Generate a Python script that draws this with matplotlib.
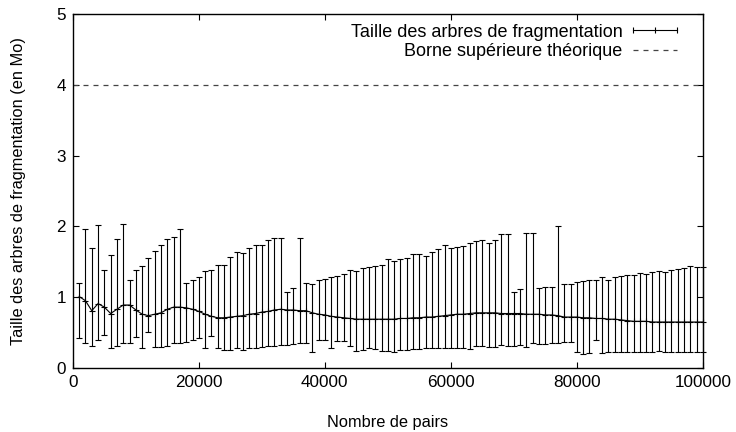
import numpy as np
import matplotlib
matplotlib.use('Agg')
import matplotlib.pyplot as plt
from matplotlib.lines import Line2D

plt.rcParams['font.family'] = ['Liberation Sans', 'DejaVu Sans']
plt.rcParams['font.size'] = 11.8

# Nombre de pairs (un point tous les 1000)
pairs = list(range(1000, 100001, 1000))

# Taille moyenne des arbres (en Mo)
mean_size = [
    1.01, 0.95, 0.81, 0.91, 0.86, 0.77, 0.83, 0.89, 0.89, 0.82,
    0.76, 0.74, 0.76, 0.78, 0.83, 0.86, 0.86, 0.85, 0.83, 0.80,
    0.76, 0.73, 0.71, 0.71, 0.72, 0.73, 0.74, 0.76, 0.77, 0.79,
    0.80, 0.82, 0.83, 0.82, 0.82, 0.81, 0.81, 0.78, 0.76, 0.75,
    0.73, 0.72, 0.71, 0.70, 0.69, 0.69, 0.69, 0.69, 0.69, 0.69,
    0.69, 0.70, 0.70, 0.71, 0.71, 0.72, 0.72, 0.73, 0.74, 0.75,
    0.76, 0.76, 0.77, 0.78, 0.78, 0.78, 0.78, 0.77, 0.77, 0.77,
    0.77, 0.76, 0.76, 0.76, 0.75, 0.75, 0.74, 0.72, 0.72, 0.72,
    0.71, 0.71, 0.70, 0.70, 0.69, 0.69, 0.68, 0.67, 0.66, 0.66,
    0.66, 0.65, 0.65, 0.65, 0.65, 0.65, 0.65, 0.65, 0.65, 0.65,
]

# max
upper = [
    1.20, 1.96, 1.70, 2.02, 1.39, 1.60, 1.82, 2.03, 1.25, 1.38,
    1.44, 1.56, 1.65, 1.74, 1.82, 1.85, 1.96, 1.20, 1.24, 1.29,
    1.37, 1.38, 1.46, 1.46, 1.57, 1.64, 1.63, 1.69, 1.73, 1.74,
    1.81, 1.83, 1.84, 1.08, 1.13, 1.83, 1.20, 1.19, 1.24, 1.26,
    1.29, 1.30, 1.33, 1.38, 1.37, 1.41, 1.43, 1.44, 1.45, 1.54,
    1.51, 1.54, 1.56, 1.61, 1.61, 1.58, 1.64, 1.68, 1.74, 1.69,
    1.71, 1.72, 1.76, 1.79, 1.81, 1.76, 1.81, 1.89, 1.89, 1.08,
    1.11, 1.90, 1.90, 1.13, 1.15, 1.15, 2.01, 1.18, 1.18, 1.22,
    1.23, 1.25, 1.24, 1.28, 1.25, 1.28, 1.30, 1.31, 1.32, 1.34,
    1.33, 1.35, 1.37, 1.35, 1.39, 1.40, 1.41, 1.44, 1.42, 1.42,
]

# min
lower = [
    0.43, 0.36, 0.31, 0.39, 0.47, 0.29, 0.31, 0.35, 0.36, 0.44,
    0.28, 0.51, 0.30, 0.30, 0.31, 0.35, 0.35, 0.37, 0.40, 0.42,
    0.28, 0.45, 0.29, 0.25, 0.26, 0.29, 0.26, 0.29, 0.29, 0.30,
    0.31, 0.31, 0.32, 0.32, 0.34, 0.36, 0.36, 0.23, 0.40, 0.40,
    0.28, 0.38, 0.38, 0.31, 0.24, 0.25, 0.29, 0.27, 0.24, 0.24,
    0.23, 0.25, 0.26, 0.27, 0.27, 0.28, 0.28, 0.28, 0.28, 0.28,
    0.29, 0.29, 0.27, 0.31, 0.31, 0.30, 0.30, 0.32, 0.31, 0.31,
    0.33, 0.30, 0.35, 0.34, 0.34, 0.36, 0.36, 0.37, 0.37, 0.22,
    0.20, 0.21, 0.39, 0.21, 0.22, 0.22, 0.22, 0.22, 0.23, 0.22,
    0.23, 0.22, 0.24, 0.23, 0.23, 0.22, 0.23, 0.23, 0.22, 0.23,
]

BORNE = 4.0  # borne superieure theorique (Mo)

mean_arr = np.array(mean_size)
yerr = [mean_arr - np.array(lower), np.array(upper) - mean_arr]

fig = plt.figure(figsize=(7.36, 4.32), dpi=100)
ax = fig.add_axes([0.099, 0.148, 0.856, 0.82])

ax.errorbar(pairs, mean_size, yerr=yerr, fmt='-', color='black', lw=0.8,
            elinewidth=0.8, capsize=2, capthick=0.8,
            marker='+', markersize=4, markeredgewidth=0.8, clip_on=False)
ax.axhline(BORNE, color='#444444', lw=0.9, linestyle=(0, (4, 4)))

ax.set_xlim(0, 100000)
ax.set_ylim(0, 5)
ax.set_xticks([0, 20000, 40000, 60000, 80000, 100000])
ax.set_yticks([0, 1, 2, 3, 4, 5])
ax.tick_params(direction='in', top=True, right=True, length=4.5, width=0.8, pad=5,
               labelsize=12.3)
for sp in ax.spines.values():
    sp.set_linewidth(1.0)

ax.set_xlabel('Nombre de pairs')
ax.set_ylabel('Taille des arbres de fragmentation (en Mo)')
ax.xaxis.set_label_coords(0.5, -0.155)
ax.yaxis.set_label_coords(-0.087, 0.5)
ax.xaxis.label.set_va('center')
ax.yaxis.label.set_va('center')

# legende facon gnuplot
h1 = Line2D([], [], color='black', lw=0.8, marker='|', markersize=5, markeredgewidth=0.8)
h2 = Line2D([], [], color='#444444', lw=0.9, linestyle=(0, (4, 4)))
ax.legend([h1, h2], ['Taille des arbres de fragmentation', 'Borne supérieure théorique'],
          loc='upper right', bbox_to_anchor=(0.967, 0.972), frameon=False,
          fontsize=13, markerfirst=False, numpoints=3, handlelength=3.0,
          handletextpad=0.3, labelspacing=0.12, borderpad=0, borderaxespad=0)

fig.savefig('out.png', dpi=100)
